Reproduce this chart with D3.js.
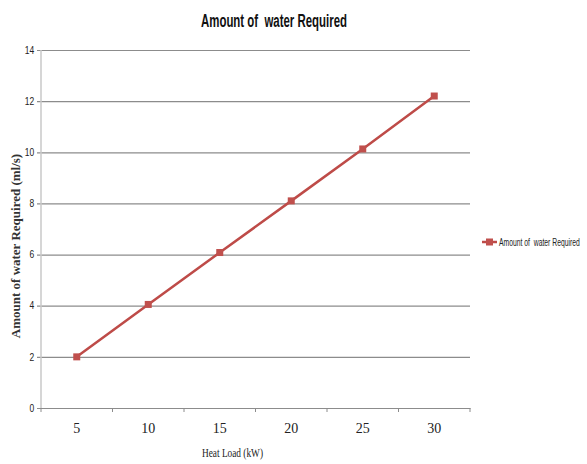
<!DOCTYPE html>
<html>
<head>
<meta charset="utf-8">
<script src="https://cdn.jsdelivr.net/npm/d3@7"></script>
<style>
  body { margin: 0; background: #fff; }
  svg { display: block; }
  .narrow { font-family: "Liberation Sans Narrow", "Liberation Sans", sans-serif; }
  .serif { font-family: "Liberation Serif", "Times New Roman", serif; }
</style>
</head>
<body>
<div id="chart"></div>
<script>
const title = "Amount of  water Required"
const series_name = "Amount of  water Required"
const heat_load = ["5", "10", "15", "20", "25", "30"]
const water_required = [2.0, 4.05, 6.08, 8.1, 10.13, 12.2]
const y_ticks = [0, 2, 4, 6, 8, 10, 12, 14]

const width = 587
const height = 464
const plot = { left: 41, right: 470, top: 50, bottom: 408 }
const series_color = "#BE4B48"

const svg = d3.select("#chart")
  .append("svg")
  .attr("width", width)
  .attr("height", height)

const x_scale = d3.scaleBand()
  .domain(heat_load)
  .range([plot.left, plot.right])

const y_scale = d3.scaleLinear()
  .domain([0, 14])
  .range([plot.bottom, plot.top])

// gridlines + y axis labels
const y_axis = svg.append("g")
  .attr("class", "narrow")
  .attr("transform", `translate(${plot.left},0)`)
  .call(d3.axisLeft(y_scale)
    .tickValues(y_ticks)
    .tickSize(-(plot.right - plot.left))
    .tickPadding(8)
    .tickFormat(d3.format("d")))
y_axis.select(".domain").remove()
y_axis.selectAll(".tick line")
  .attr("x1", -4)
  .attr("stroke", "#8c8c8c")
  .attr("stroke-width", 1.2)
y_axis.selectAll(".tick text")
  .attr("fill", "#222")
  .style("font-size", "10px")
  .attr("transform", "scale(0.85,1)")

// vertical axis line
svg.append("line")
  .attr("x1", plot.left).attr("x2", plot.left)
  .attr("y1", plot.top).attr("y2", plot.bottom)
  .attr("stroke", "#c8c8c8")
  .attr("stroke-width", 1.5)

// x axis
const x_axis = svg.append("g")
  .attr("class", "serif")
  .attr("transform", `translate(0,${plot.bottom})`)
  .call(d3.axisBottom(x_scale).tickSize(0).tickPadding(15))
x_axis.select(".domain")
  .attr("stroke", "#8c8c8c")
  .attr("stroke-width", 1.2)
x_axis.selectAll(".tick text")
  .attr("fill", "#222")
  .style("font-size", "14px")

// category boundary ticks
const boundaries = heat_load.map((d) => x_scale(d)).concat([x_scale.range()[1]])
svg.append("g")
  .selectAll("line")
  .data(boundaries)
  .enter()
  .append("line")
    .attr("x1", (d) => d).attr("x2", (d) => d)
    .attr("y1", plot.bottom).attr("y2", plot.bottom + 4)
    .attr("stroke", "#8c8c8c")

const cx = (d, i) => x_scale(heat_load[i]) + x_scale.bandwidth() / 2

const line = d3.line()
  .x((d, i) => cx(d, i))
  .y((d) => y_scale(d))

svg.append("path")
  .attr("d", line(water_required))
  .attr("fill", "none")
  .attr("stroke", series_color)
  .attr("stroke-width", 2.5)

svg.append("g")
  .selectAll("rect")
  .data(water_required)
  .enter()
  .append("rect")
    .attr("x", (d, i) => cx(d, i) - 3.5)
    .attr("y", (d) => y_scale(d) - 3.5)
    .attr("width", 7)
    .attr("height", 7)
    .attr("fill", "#C0504D")

// title
svg.append("text")
  .attr("class", "narrow")
  .attr("x", 201)
  .attr("y", 27)
  .attr("textLength", 146)
  .attr("lengthAdjust", "spacingAndGlyphs")
  .style("font-size", "18px")
  .style("font-weight", "bold")
  .attr("fill", "#111")
  .attr("xml:space", "preserve")
  .text(title)

// axis titles
svg.append("text")
  .attr("class", "serif")
  .attr("x", 202)
  .attr("y", 457)
  .attr("textLength", 61)
  .attr("lengthAdjust", "spacingAndGlyphs")
  .style("font-size", "13px")
  .attr("fill", "#222")
  .text("Heat Load (kW)")

svg.append("text")
  .attr("class", "serif")
  .attr("transform", "translate(20,246) rotate(-90)")
  .attr("text-anchor", "middle")
  .style("font-size", "13px")
  .style("font-weight", "bold")
  .attr("fill", "#333")
  .text("Amount of water Required (ml/s)")

// legend
const legend = svg.append("g").attr("transform", "translate(482,242)")
legend.append("line")
  .attr("x1", 0).attr("x2", 15)
  .attr("stroke", series_color)
  .attr("stroke-width", 2.5)
legend.append("rect")
  .attr("x", 4).attr("y", -3.5)
  .attr("width", 7).attr("height", 7)
  .attr("fill", "#C0504D")
legend.append("g")
  .attr("transform", "translate(17,3.5) scale(0.68,1)")
  .append("text")
    .attr("class", "narrow")
    .style("font-size", "10px")
    .attr("fill", "#222")
    .attr("xml:space", "preserve")
    .text(series_name)
</script>
</body>
</html>
